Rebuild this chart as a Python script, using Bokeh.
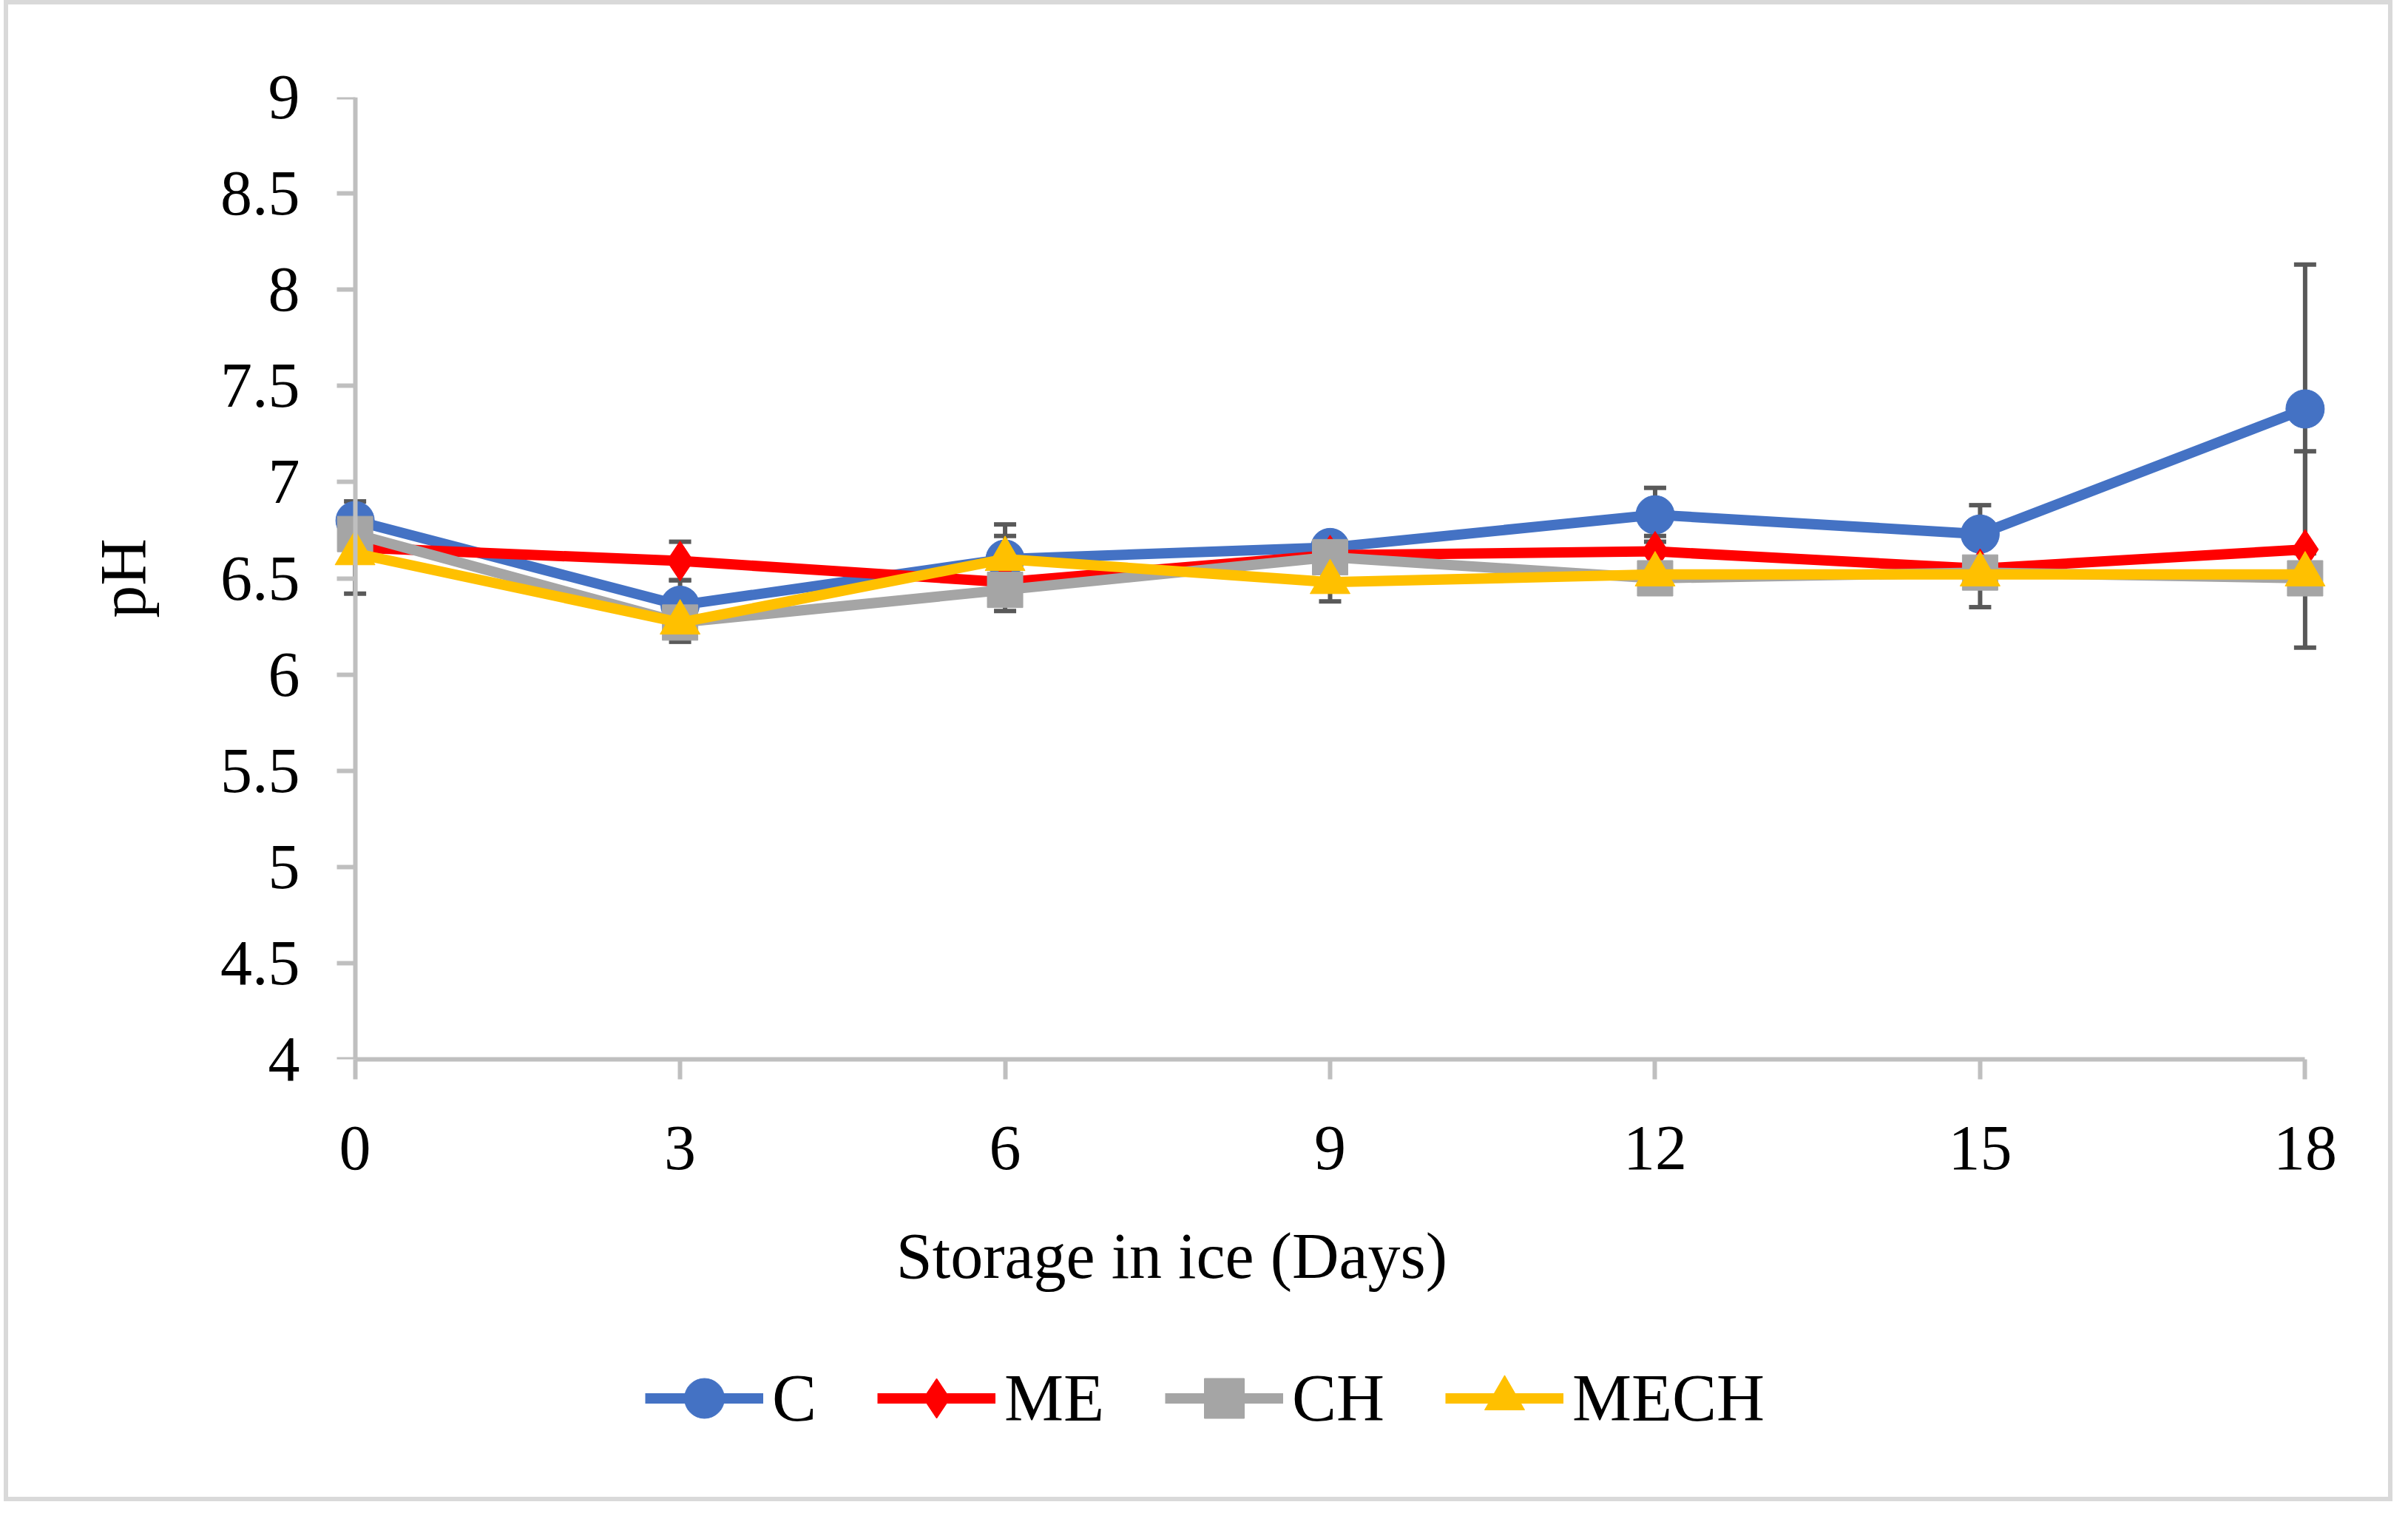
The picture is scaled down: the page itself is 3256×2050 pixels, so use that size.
from bokeh.plotting import figure
from bokeh.layouts import column
from bokeh.models import (ColumnDataSource, Whisker, TeeHead, Legend, LegendItem, LinearAxis,
                          FixedTicker, NumeralTickFormatter, CustomJSTickFormatter, Range1d, Label)
from bokeh.embed import file_html
from bokeh.resources import INLINE

# ---- data ----
days = [0, 3, 6, 9, 12, 15, 18]
series_names = ["C", "ME", "CH", "MECH"]
ph_C = [6.80, 6.36, 6.60, 6.66, 6.83, 6.73, 7.38]
ph_ME = [6.66, 6.59, 6.48, 6.62, 6.64, 6.55, 6.65]
ph_CH = [6.73, 6.27, 6.44, 6.61, 6.50, 6.53, 6.50]
ph_MECH = [6.63, 6.27, 6.60, 6.48, 6.52, 6.52, 6.52]
err_C = [0.05, 0.13, 0.18, 0.06, 0.14, 0.15, 0.75]
err_ME = [0.24, 0.10, 0.04, 0.04, 0.08, 0.04, 0.51]
err_CH = [0.04, 0.10, 0.11, 0.04, 0.04, 0.04, 0.04]
err_MECH = [0.04, 0.04, 0.12, 0.10, 0.04, 0.17, 0.04]
x_ticks = [0, 3, 6, 9, 12, 15, 18]
y_ticks = [4, 4.5, 5, 5.5, 6, 6.5, 7, 7.5, 8, 8.5, 9]
x_title = "Storage in ice (Days)"
y_title = "pH"

colors = ["#4472C4", "#FF0000", "#A5A5A5", "#FFC000"]
markers = ["circle", "diamond", "square", "triangle"]
msizes = [52, 54, 48, 54]
values = [ph_C, ph_ME, ph_CH, ph_MECH]
errors = [err_C, err_ME, err_CH, err_MECH]

FONT = "Liberation Serif"
FS_TICK = "86px"
FS = "88px"
FS_LEG = "90px"
ERR = "#595959"
AXC = "#BFBFBF"

W = 3218
H1 = 1620
H2 = 398
BL, BR = 432, 76
FRAME_W = W - BL - BR

p = figure(width=W, height=H1, x_range=Range1d(-0.25, 18.25), y_range=Range1d(4, 9),
           output_backend="svg", toolbar_location=None,
           min_border_left=BL, min_border_right=BR, min_border_top=125, min_border_bottom=194)
p.outline_line_color = None
p.xgrid.visible = False
p.ygrid.visible = False

# error bars first
for vals, errs in zip(values, errors):
    src = ColumnDataSource(dict(base=days,
                                upper=[v + e for v, e in zip(vals, errs)],
                                lower=[v - e for v, e in zip(vals, errs)]))
    w = Whisker(source=src, base="base", upper="upper", lower="lower", dimension="height",
                line_color=ERR, line_width=6,
                upper_head=TeeHead(size=30, line_color=ERR, line_width=6),
                lower_head=TeeHead(size=30, line_color=ERR, line_width=6))
    p.add_layout(w)

# second figure below: x-axis title and legend
p2 = figure(width=W, height=H2, x_range=Range1d(0, FRAME_W), y_range=Range1d(H2, 0),
            output_backend="svg", toolbar_location=None,
            min_border_left=BL, min_border_right=BR, min_border_top=0, min_border_bottom=0,
            x_axis_location=None, y_axis_location=None)
p2.outline_line_color = None
p2.xgrid.visible = False
p2.ygrid.visible = False

items = []
for name, vals, col, mk, ms in zip(series_names, values, colors, markers, msizes):
    src = ColumnDataSource(dict(x=days, y=vals))
    p.line("x", "y", source=src, line_color=col, line_width=14)
    p.scatter("x", "y", source=src, marker=mk, size=ms, fill_color=col, line_color=col)
    # hidden proxies that only feed the legend
    l2 = p2.line("x", "y", source=src, line_color=col, line_width=14, visible=False)
    s2 = p2.scatter("x", "y", source=src, marker=mk, size=ms, fill_color=col, line_color=col,
                    visible=False)
    items.append(LegendItem(label=name, renderers=[l2, s2]))

# x axis
xa = p.xaxis[0]
xa.axis_line_color = AXC
xa.axis_line_width = 6
xa.major_tick_line_color = AXC
xa.major_tick_line_width = 6
xa.major_tick_in = 0
xa.major_tick_out = 27
xa.minor_tick_line_color = None
xa.ticker = FixedTicker(ticks=x_ticks)
xa.bounds = (0, 18)
xa.major_label_text_font = FONT
xa.major_label_text_font_size = FS_TICK
xa.major_label_text_color = "black"
xa.major_label_standoff = 64

# y axis: labels only (at frame edge)
ya = p.yaxis[0]
ya.ticker = FixedTicker(ticks=y_ticks)
ya.formatter = NumeralTickFormatter(format="0.[0]")
ya.axis_line_color = None
ya.major_tick_line_color = None
ya.minor_tick_line_color = None
ya.major_tick_in = 0
ya.major_tick_out = 0
ya.major_label_text_font = FONT
ya.major_label_text_font_size = FS_TICK
ya.major_label_text_color = "black"
ya.major_label_standoff = 38
ya.axis_label = y_title
ya.axis_label_text_font = FONT
ya.axis_label_text_font_size = FS
ya.axis_label_text_font_style = "normal"
ya.axis_label_text_color = "black"
ya.axis_label_standoff = 80

# y axis line and ticks drawn at day 0
ya2 = LinearAxis(fixed_location=0, ticker=FixedTicker(ticks=y_ticks),
                 formatter=CustomJSTickFormatter(code="return ''"),
                 axis_line_color=AXC, axis_line_width=6,
                 major_tick_line_color=AXC, major_tick_line_width=6,
                 major_tick_in=0, major_tick_out=25, minor_tick_line_color=None,
                 major_label_text_font_size="1px")
p.add_layout(ya2, "left")

# x axis title (centred on the chart area, as in the original)
p2.add_layout(Label(x=1141, y=72, text=x_title, text_align="center", text_baseline="middle",
                    text_font=FONT, text_font_size=FS, text_color="black"))

legend = Legend(items=items, orientation="horizontal", location=(429, 66),
                glyph_width=160, glyph_height=135, label_standoff=12, spacing=82,
                label_text_font=FONT, label_text_font_size=FS_LEG, label_text_color="black",
                border_line_color=None, background_fill_alpha=0, padding=0, margin=0)
p2.add_layout(legend)

layout = column(p, p2, spacing=0,
                styles={"border": "6px solid #D9D9D9", "margin-left": "5px"})

open("out.html", "w").write(file_html(layout, INLINE))
